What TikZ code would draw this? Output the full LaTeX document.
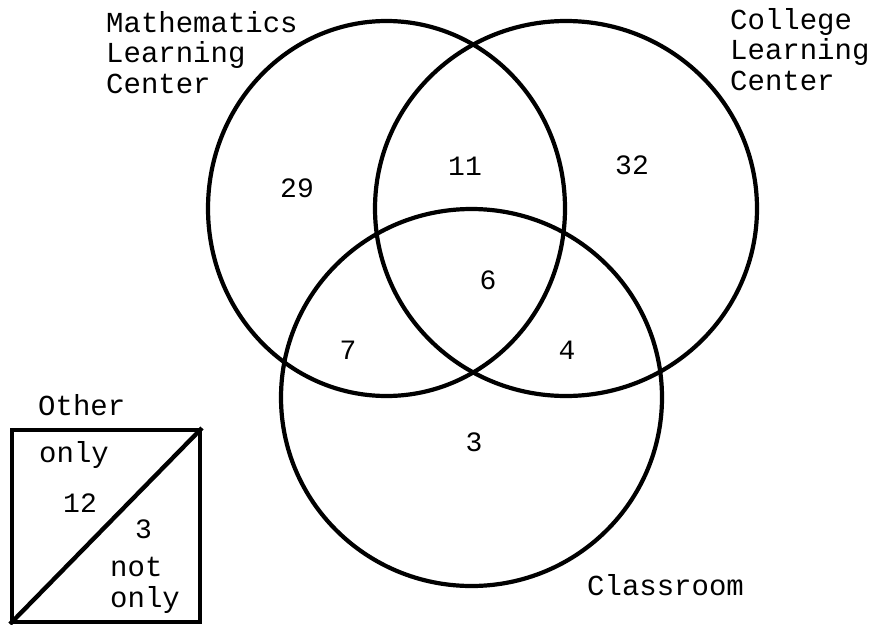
\documentclass[tikz,border=0pt]{standalone}
\usepackage{fontspec}
\setmonofont{Liberation Mono}
\usetikzlibrary{positioning}

\begin{document}
\begin{tikzpicture}[
    x=1pt, y=-1pt,
    ring/.style={line width=4.2pt},
    setlabel/.style={font=\fontsize{29}{30.5}\selectfont\ttfamily,
                     align=left, inner sep=0pt, anchor=base west},
    tally/.style={font=\fontsize{28}{30}\selectfont\ttfamily, inner sep=0pt}
  ]
  \useasboundingbox (0,0) rectangle (877,624);

  % the three sets
  \draw[ring] (386.5,208.5) ellipse [x radius=178.5, y radius=187.5];
  \draw[ring] (566,208.5) ellipse [x radius=191, y radius=187.5];
  \draw[ring] (471.5,397.5) ellipse [x radius=190.5, y radius=188.5];

  % (base anchor sits on the last line)
  \node[setlabel] (mlc) at (106,93) {Mathematics\\Learning\\Center};
  \node[setlabel] (clc) at (730,90) {College\\Learning\\Center};
  \node[setlabel] (room) at (587,595) {Classroom};

  % counts in each region
  \node[tally] (mOnly) at (297,188) {29};
  \node[tally] (mc) at (465,166) {11};
  \node[tally] (cOnly) at (632,165) {32};
  \node[tally] (all) at (488,280) {6};
  \node[tally] (mr) at (348,350) {7};
  \node[tally] (cr) at (567,350) {4};
  \node[tally] (rOnly) at (474,442) {3};

  % other box
  \node[draw, line width=4pt, minimum width=188pt, minimum height=192pt,
        inner sep=0pt] (otherbox) at (106,526) {};
  \draw[line width=4.4pt] (otherbox.south west) -- (otherbox.north east);
  \node[setlabel] (other) at (38,415) {Other};
  \node[setlabel] (only) at (39,462) {only};
  \node[tally, anchor=base west] (oOnly) at (63,512) {12};
  \node[tally, anchor=base west] (oNot) at (135,538) {3};
  \node[setlabel] (notonly) at (110,607) {not\\only};
\end{tikzpicture}
\end{document}
